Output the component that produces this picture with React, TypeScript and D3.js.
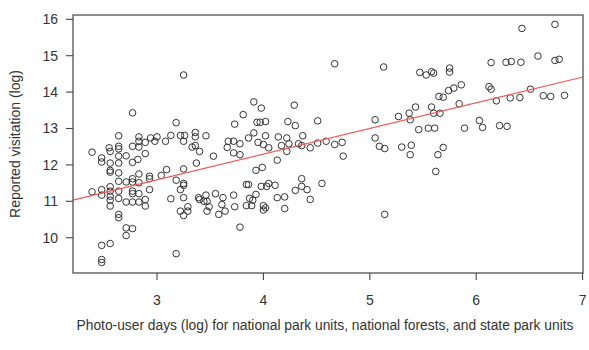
import React from 'react';
import * as d3 from 'd3';

// photo-user days (log), reported visitation (log)
const lowUnits: [number, number][] = [
  [2.64, 12.80], [2.83, 12.77], [2.83, 12.65], [2.89, 12.62], [2.94, 12.74], [3.00, 12.77], [2.98, 12.65], [3.08, 12.65],
  [3.13, 12.81], [3.22, 12.81], [3.26, 12.81], [3.25, 12.65], [3.36, 12.89], [3.36, 12.77], [3.46, 12.80], [3.36, 12.53],
  [3.40, 12.37], [3.33, 12.49], [3.66, 12.48], [3.67, 12.65], [3.53, 12.24], [3.37, 12.05],
  [2.55, 12.47], [2.64, 12.51], [2.64, 12.44], [2.56, 12.37], [2.77, 12.51], [2.83, 12.49], [2.89, 12.31], [2.82, 12.15],
  [2.71, 12.25], [2.64, 12.24], [2.48, 12.19], [2.48, 12.08], [2.39, 12.35], [2.56, 12.05], [2.64, 12.05], [2.77, 12.07],
  [2.56, 11.85], [2.56, 11.80], [2.64, 11.78], [2.83, 11.75], [2.93, 11.69], [2.93, 11.62], [3.09, 11.87], [3.04, 11.71],
  [3.25, 11.89],
  [2.39, 11.26], [2.48, 11.32], [2.48, 11.17], [2.56, 11.40], [2.56, 11.28], [2.64, 11.55], [2.64, 11.28], [2.71, 11.53],
  [2.77, 11.62], [2.77, 11.53], [2.77, 11.28], [2.77, 11.21], [2.83, 11.51], [2.83, 11.21], [2.93, 11.32], [3.18, 11.58],
  [3.25, 11.49], [3.25, 11.44], [3.22, 11.32], [3.25, 11.10], [3.13, 11.07], [2.56, 11.14], [2.56, 11.03], [2.64, 11.08],
  [2.71, 10.98], [2.77, 10.98], [2.83, 10.98], [2.89, 11.05], [2.89, 10.87], [2.56, 10.87],
  [3.39, 11.10], [3.40, 11.05], [3.44, 11.00], [3.46, 11.17], [3.47, 11.00], [3.49, 10.85], [3.47, 10.73], [3.55, 11.21],
  [3.62, 11.10], [3.61, 10.91], [3.64, 10.73], [3.58, 10.64], [3.22, 10.73], [3.25, 10.61], [3.29, 10.85], [3.29, 10.73],
  [2.64, 10.64], [2.64, 10.55], [2.71, 10.27], [2.77, 10.25], [2.71, 10.06], [2.48, 9.79], [2.56, 9.84], [2.48, 9.40],
  [2.48, 9.32], [3.18, 9.56],
  [2.77, 13.43], [3.18, 13.16], [3.25, 14.47],
];

const midUnits: [number, number][] = [
  [3.73, 13.12], [3.81, 13.38], [3.91, 13.73], [3.98, 13.56], [4.29, 13.64], [4.67, 14.78], [4.51, 13.21], [4.23, 13.19],
  [4.30, 13.08], [3.94, 13.17], [3.97, 13.17], [4.02, 13.19],
  [3.72, 12.65], [3.78, 12.58], [3.86, 12.74], [3.91, 12.88], [3.95, 12.62], [4.00, 12.56], [4.02, 12.80], [4.05, 12.47],
  [4.14, 12.77], [4.17, 12.53], [4.22, 12.74], [4.22, 12.37], [4.24, 12.58], [4.33, 12.58], [4.36, 12.53], [4.37, 12.80],
  [4.44, 12.47], [4.51, 12.60], [4.59, 12.65], [4.67, 12.56], [4.74, 12.62], [4.75, 12.24], [4.13, 12.13], [3.72, 12.33],
  [3.78, 12.28],
  [3.93, 11.85], [3.99, 11.93], [3.84, 11.46], [3.86, 11.46], [3.98, 11.41], [4.03, 11.41], [4.05, 11.49], [4.11, 11.44],
  [3.93, 11.19], [3.87, 11.08], [3.90, 11.03], [3.84, 10.88], [3.89, 10.88], [4.00, 10.88], [4.02, 10.82], [4.00, 10.76],
  [4.13, 11.10], [4.20, 11.12], [4.20, 10.80], [4.30, 11.30], [4.36, 11.62], [4.36, 11.41], [4.41, 11.32], [4.44, 11.05],
  [4.55, 11.49], [3.72, 11.17], [3.73, 10.85], [3.78, 10.29],
];

const highUnits: [number, number][] = [
  [5.13, 14.69], [5.05, 13.24], [5.27, 13.33], [5.05, 12.74], [5.09, 12.51], [5.14, 12.45], [5.14, 10.64],
  [6.43, 15.75], [6.74, 15.86], [6.14, 14.81], [6.28, 14.82], [6.33, 14.84], [6.42, 14.82], [6.58, 14.99], [6.74, 14.87],
  [6.78, 14.90], [5.47, 14.54], [5.53, 14.47], [5.58, 14.56], [5.60, 14.52], [5.75, 14.66], [5.75, 14.55], [5.86, 14.20],
  [5.79, 14.11], [5.74, 14.04], [5.69, 13.86], [5.65, 13.88], [6.12, 14.15], [6.14, 14.08], [6.51, 14.08], [6.19, 13.76],
  [6.32, 13.84], [6.41, 13.85], [6.63, 13.90], [6.70, 13.88], [6.83, 13.91], [5.84, 13.68], [5.58, 13.59], [5.43, 13.59],
  [5.60, 13.42], [5.66, 13.42], [5.37, 13.42], [5.38, 13.24], [6.03, 13.22], [6.06, 13.03], [6.22, 13.08], [6.29, 13.06],
  [5.89, 13.01], [5.46, 12.97], [5.55, 13.01], [5.61, 13.01], [5.39, 12.54], [5.30, 12.49], [5.69, 12.48], [5.38, 12.28],
  [5.64, 12.28], [5.62, 11.82],
];

const xTicks = [3, 4, 5, 6, 7];
const yTicks = [10, 11, 12, 13, 14, 15, 16];

// fitted line: visitation = fitIntercept + fitSlope * photoDays
const fitIntercept = 9.47;
const fitSlope = 0.706;

const xTitle = 'Photo-user days (log) for national park units, national forests, and state park units';
const yTitle = 'Reported visitation (log)';

export default function App() {
  const width = 589;
  const height = 350;
  const box = { left: 73, right: 583, top: 15, bottom: 273 };
  const font = '"Liberation Sans", Arial, sans-serif';

  const x = d3.scaleLinear().domain([3, 7]).range([157, 582.6]);
  const y = d3.scaleLinear().domain([10, 16]).range([237.7, 19.3]);

  const allPoints = [...lowUnits, ...midUnits, ...highUnits];
  const x0 = x.invert(box.left);
  const x1 = x.invert(box.right);
  const fitLine = d3.line<number>()
    .x(d => x(d))
    .y(d => y(fitIntercept + fitSlope * d));

  return (
    <svg width={width} height={height} style={{ position: 'absolute', left: 0, top: 0, background: '#fff' }}>
      {/* points */}
      <g>
        {allPoints.map((d, i) => (
          <circle key={i} cx={x(d[0])} cy={y(d[1])} r={3.3}
            fill="none" stroke="#333" strokeWidth={1} />
        ))}
      </g>

      <path d={fitLine([x0, x1]) || ''} fill="none" stroke="#f25a5a" strokeWidth={1.2} />

      {/* box */}
      <rect x={box.left} y={box.top} width={box.right - box.left} height={box.bottom - box.top}
        fill="none" stroke="#444" strokeWidth={1.2} />

      {/* y axis */}
      <g fontFamily={font} fontSize={14} fill="#333">
        {yTicks.map(t => (
          <g key={t}>
            <line x1={box.left - 7} x2={box.left} y1={y(t)} y2={y(t)} stroke="#444" strokeWidth={1.1} />
            <text x={58} y={y(t)} dy="0.35em" textAnchor="end">{t}</text>
          </g>
        ))}
      </g>

      {/* x axis */}
      <g fontFamily={font} fontSize={14} fill="#333">
        {xTicks.map(t => (
          <g key={t}>
            <line x1={x(t)} x2={x(t)} y1={box.bottom} y2={box.bottom + 7} stroke="#444" strokeWidth={1.1} />
            <text x={x(t)} y={305} textAnchor="middle">{t}</text>
          </g>
        ))}
      </g>

      <text x={(box.left + box.right) / 2 - 3} y={330} textAnchor="middle"
        fontFamily={font} fontSize={13.8} fill="#333">{xTitle}</text>
      <text transform={`translate(20,${(box.top + box.bottom) / 2}) rotate(-90)`} textAnchor="middle"
        fontFamily={font} fontSize={14} fill="#333">{yTitle}</text>
    </svg>
  );
}
